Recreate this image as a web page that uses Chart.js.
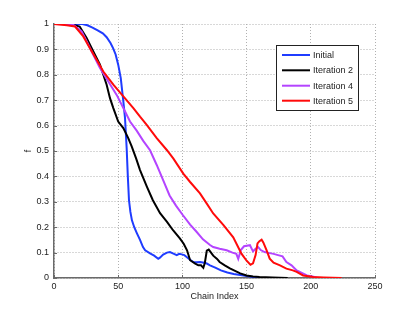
<!DOCTYPE html>
<html>
<head>
<meta charset="utf-8">
<script src="https://cdn.jsdelivr.net/npm/chart.js@4.4.1/dist/chart.umd.min.js"></script>
<style>
  html, body { margin: 0; padding: 0; background: #fff; }
  #wrap { width: 415px; height: 313px; }
</style>
</head>
<body>
<div id="wrap"><canvas id="c" width="415" height="313"></canvas></div>
<script>
// ---- data ----
const seriesNames = ['Initial', 'Iteration 2', 'Iteration 4', 'Iteration 5'];
const seriesColors = ['#1f3cff', '#000000', '#b444ff', '#ff0a0a'];

const initialX = [0, 12, 22, 26, 30, 34, 38, 41, 44, 46, 48, 50, 52, 54, 55.3, 56.6, 57.5, 58.4, 59.5, 60.7, 62.5, 64.6, 67, 69.3, 71, 74.8, 78, 81.2, 82.5, 85, 88, 90.3, 93, 95.6, 97.5, 99.5, 101.5, 103.3, 106, 108.5, 111, 113.7, 117, 119, 121.5, 126, 130, 135, 140, 145, 150, 155, 160, 165];
const initialY = [1, 1, 1, 0.995, 0.986, 0.975, 0.963, 0.948, 0.925, 0.905, 0.88, 0.84, 0.787, 0.695, 0.63, 0.51, 0.40, 0.306, 0.26, 0.227, 0.2, 0.176, 0.15, 0.122, 0.109, 0.097, 0.088, 0.076, 0.08, 0.092, 0.1, 0.102, 0.096, 0.09, 0.095, 0.093, 0.09, 0.083, 0.072, 0.063, 0.062, 0.063, 0.06, 0.057, 0.05, 0.04, 0.03, 0.022, 0.016, 0.012, 0.008, 0.004, 0.001, 0];

const iter2X = [0, 8, 14, 20, 25.4, 30.6, 35.8, 38.4, 41, 43.6, 46.2, 50, 54, 57.9, 60.5, 64, 67, 72.4, 77, 82.6, 88, 92.7, 98, 101, 103.6, 106, 110, 112.4, 114.5, 116.3, 117.5, 119, 120.5, 122, 124, 127, 129, 133, 137, 141, 145, 150, 155, 160, 165, 170, 176, 182];
const iter2Y = [1, 1, 0.998, 0.99, 0.945, 0.892, 0.84, 0.80, 0.761, 0.708, 0.669, 0.616, 0.59, 0.55, 0.518, 0.47, 0.425, 0.359, 0.306, 0.255, 0.221, 0.188, 0.156, 0.135, 0.109, 0.07, 0.057, 0.05, 0.05, 0.04, 0.06, 0.108, 0.112, 0.102, 0.088, 0.075, 0.063, 0.05, 0.038, 0.028, 0.018, 0.01, 0.006, 0.004, 0.003, 0.002, 0.001, 0];

const iter4X = [0, 10, 15, 21.5, 25.4, 30.6, 35.8, 42.3, 48.8, 54, 59.2, 64.4, 69.5, 74.8, 80, 85, 90, 95, 100, 106, 111, 116, 121.5, 124, 129, 134.5, 139, 142, 143.5, 145.5, 148, 152.6, 155, 157, 159, 161, 164, 168, 171, 174.5, 178, 181, 185, 189, 193, 197, 203, 206];
const iter4Y = [1, 0.999, 0.997, 0.971, 0.932, 0.879, 0.827, 0.774, 0.721, 0.669, 0.616, 0.58, 0.54, 0.503, 0.445, 0.385, 0.325, 0.285, 0.25, 0.21, 0.182, 0.152, 0.13, 0.122, 0.115, 0.109, 0.1, 0.095, 0.075, 0.11, 0.125, 0.129, 0.105, 0.115, 0.122, 0.11, 0.102, 0.098, 0.095, 0.09, 0.085, 0.063, 0.05, 0.03, 0.02, 0.01, 0.004, 0];

const iter5X = [0, 10, 16.4, 22.8, 28, 33.2, 38.4, 46.2, 54, 61.8, 67, 72.2, 80, 88, 93, 100.7, 106, 113.7, 119, 124, 132, 139.6, 146, 150, 153, 155, 157, 158.5, 160, 161.7, 163, 165.6, 168, 171, 176, 181, 186, 189, 194, 202, 210, 224];
const iter5Y = [1, 0.995, 0.99, 0.951, 0.905, 0.859, 0.813, 0.761, 0.715, 0.669, 0.635, 0.603, 0.551, 0.503, 0.47, 0.411, 0.378, 0.333, 0.293, 0.254, 0.208, 0.16, 0.096, 0.068, 0.052, 0.058, 0.09, 0.136, 0.145, 0.151, 0.14, 0.109, 0.076, 0.06, 0.05, 0.037, 0.03, 0.024, 0.01, 0.004, 0.002, 0];

const xTicks = [0, 50, 100, 150, 200, 250];
const xTickLabels = ['0', '50', '100', '150', '200', '250'];
const yTicks = [0, 0.1, 0.2, 0.3, 0.4, 0.5, 0.6, 0.7, 0.8, 0.9, 1];
const yTickLabels = ['0', '0.1', '0.2', '0.3', '0.4', '0.5', '0.6', '0.7', '0.8', '0.9', '1'];
const xTitle = 'Chain Index';
const yTitle = 'f';

// ---- build ----
const xs = [initialX, iter2X, iter4X, iter5X];
const ys = [initialY, iter2Y, iter4Y, iter5Y];
const FONT = 'Liberation Sans, Arial, Helvetica, sans-serif';
const AXIS_COLOR = '#6a6a6a';

const datasets = seriesNames.map((name, i) => ({
  label: name,
  data: xs[i].map((x, j) => ({ x: x, y: ys[i][j] })),
  borderColor: seriesColors[i],
  backgroundColor: seriesColors[i],
  borderWidth: 2,
  pointRadius: 0,
  tension: 0,
  fill: false,
  order: seriesNames.length - i
}));

// small inward tick marks (MATLAB style)
const inwardTicks = {
  id: 'inwardTicks',
  beforeDatasetsDraw(chart) {
    const ctx = chart.ctx;
    const a = chart.chartArea;
    const sx = chart.scales.x, sy = chart.scales.y;
    ctx.save();
    ctx.strokeStyle = AXIS_COLOR;
    ctx.lineWidth = 1;
    ctx.beginPath();
    xTicks.forEach(v => {
      const px = Math.round(sx.getPixelForValue(v)) + 0.5;
      ctx.moveTo(px, a.bottom);
      ctx.lineTo(px, a.bottom - 3);
    });
    yTicks.forEach(v => {
      const py = Math.round(sy.getPixelForValue(v)) + 0.5;
      ctx.moveTo(a.left, py);
      ctx.lineTo(a.left + 3, py);
    });
    ctx.stroke();
    ctx.restore();
  }
};

const insideLegend = {
  id: 'insideLegend',
  afterDatasetsDraw(chart) {
    const ctx = chart.ctx;
    const bx = 276.5, by = 45.5, bw = 82, bh = 65;
    ctx.save();
    ctx.fillStyle = '#ffffff';
    ctx.fillRect(bx, by, bw, bh);
    ctx.strokeStyle = '#222';
    ctx.lineWidth = 1;
    ctx.strokeRect(bx, by, bw, bh);
    const rows = [55, 70.3, 85.7, 100.7];
    ctx.font = '9px ' + FONT;
    ctx.textBaseline = 'middle';
    ctx.textAlign = 'left';
    chart.data.datasets.forEach((ds, i) => {
      const y = rows[i];
      ctx.strokeStyle = ds.borderColor;
      ctx.lineWidth = 2;
      ctx.beginPath();
      ctx.moveTo(282, y);
      ctx.lineTo(310, y);
      ctx.stroke();
      ctx.fillStyle = '#222';
      ctx.fillText(ds.label, 313, y + 0.5);
    });
    ctx.restore();
  }
};

new Chart(document.getElementById('c'), {
  type: 'line',
  data: { datasets: datasets },
  options: {
    responsive: false,
    animation: false,
    parsing: true,
    layout: { padding: { top: 24, right: 40, left: 0, bottom: 0 } },
    plugins: { legend: { display: false }, tooltip: { enabled: false } },
    scales: {
      x: {
        type: 'linear',
        min: 0, max: 250,
        afterBuildTicks: s => { s.ticks = xTicks.map(v => ({ value: v })); },
        afterFit: s => { s.height = 35; },
        ticks: {
          callback: (v, i) => xTickLabels[i],
          font: { family: FONT, size: 9 },
          color: '#222',
          padding: 3,
          maxRotation: 0
        },
        grid: { color: '#b0b0b0', lineWidth: 1, drawTicks: false },
        border: { display: true, color: AXIS_COLOR, width: 1.5, dash: [1, 2] },
        title: { display: true, text: xTitle, font: { family: FONT, size: 9 }, color: '#222', padding: { top: 0, bottom: 11 } }
      },
      y: {
        type: 'linear',
        min: 0, max: 1,
        afterBuildTicks: s => { s.ticks = yTicks.map(v => ({ value: v })); },
        afterFit: s => { s.width = 54; },
        ticks: {
          callback: (v, i) => yTickLabels[i],
          font: { family: FONT, size: 9 },
          color: '#222',
          padding: 5
        },
        grid: { color: '#b0b0b0', lineWidth: 1, drawTicks: false },
        border: { display: true, color: AXIS_COLOR, width: 1.5, dash: [1, 2] },
        title: { display: true, text: yTitle, font: { family: FONT, size: 9 }, color: '#222', padding: { top: 23.5, bottom: 0 } }
      }
    }
  },
  plugins: [inwardTicks, insideLegend]
});
</script>
</body>
</html>
